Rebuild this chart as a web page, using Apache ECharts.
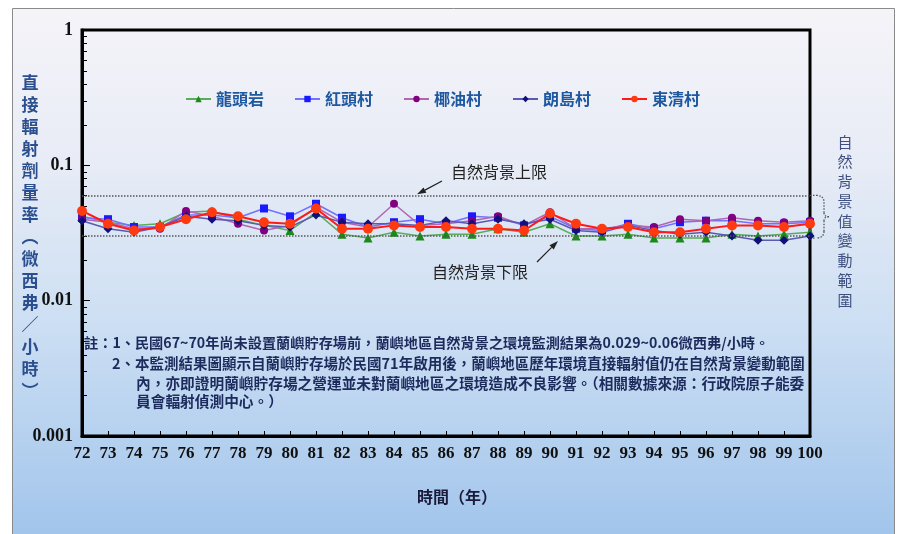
<!DOCTYPE html>
<html><head><meta charset="utf-8">
<script src="https://cdn.jsdelivr.net/npm/echarts@6/dist/echarts.min.js"></script>
<style>html,body{margin:0;padding:0;background:#fff}#c{width:901px;height:534px}</style>
</head><body><div id="c"></div>
<script>
const years = ['72','73','74','75','76','77','78','79','80','81','82','83','84','85','86','87','88','89','90','91','92','93','94','95','96','97','98','99','100'];
const longtouyan = [0.042,0.038,0.036,0.037,0.045,0.046,0.040,0.036,0.033,0.045,0.031,0.029,0.032,0.030,0.031,0.031,0.034,0.032,0.037,0.030,0.030,0.031,0.029,0.029,0.029,0.031,0.030,0.031,0.032];
const hongtoucun = [0.041,0.040,0.035,0.035,0.043,0.043,0.041,0.048,0.042,0.052,0.041,0.035,0.038,0.040,0.037,0.042,0.041,0.036,0.042,0.034,0.033,0.037,0.034,0.038,0.039,0.039,0.037,0.037,0.038];
const yeyoucun = [0.040,0.038,0.034,0.034,0.046,0.042,0.037,0.033,0.036,0.049,0.038,0.035,0.052,0.036,0.037,0.039,0.042,0.036,0.045,0.034,0.034,0.036,0.035,0.040,0.039,0.041,0.039,0.038,0.039];
const langdaocun = [0.039,0.034,0.032,0.035,0.042,0.040,0.039,0.036,0.035,0.043,0.038,0.037,0.037,0.036,0.039,0.037,0.040,0.037,0.040,0.033,0.032,0.036,0.033,0.031,0.032,0.030,0.028,0.028,0.030];
const dongqingcun = [0.046,0.037,0.033,0.035,0.040,0.045,0.042,0.038,0.037,0.048,0.034,0.034,0.036,0.035,0.035,0.034,0.034,0.033,0.044,0.037,0.034,0.035,0.032,0.032,0.034,0.036,0.036,0.035,0.037];
const seriesNames = ['龍頭岩','紅頭村','椰油村','朗島村','東清村'];
const yTickLabels = {'-3':'0.001','-2':'0.01','-1':'0.1','0':'1'};
const bgUpper = 0.06, bgLower = 0.029;
const yTitle = '直接輻射劑量率︵微西弗／小時︶';
const rightTitle = '自然背景值變動範圍';
const xTitle = '時間（年）';
const upperLabel = '自然背景上限';
const lowerLabel = '自然背景下限';
const notes = [
  '註：1、民國67~70年尚未設置蘭嶼貯存場前，蘭嶼地區自然背景之環境監測結果為0.029~0.06微西弗/小時。',
  '2、本監測結果圖顯示自蘭嶼貯存場於民國71年啟用後，蘭嶼地區歷年環境直接輻射值仍在自然背景變動範圍',
  '內，亦即證明蘭嶼貯存場之營運並未對蘭嶼地區之環境造成不良影響。（相關數據來源：行政院原子能委',
  '員會輻射偵測中心。）'
];

const CJK = '"Noto Sans CJK TC"';
const chart = echarts.init(document.getElementById('c'), null, {renderer:'canvas'});

function mk(name, data, lineColor, markColor, symbol, size, width, extra) {
  return Object.assign({
    name, type:'line', data, symbol, symbolSize:size,
    lineStyle:{color:lineColor, width:width},
    itemStyle:{color:markColor},
    emphasis:{disabled:true}
  }, extra||{});
}

const option = {
  animation:false,
  backgroundColor: new echarts.graphic.LinearGradient(0,0,0,1,[
    {offset:0,color:'#f6f4f9'},{offset:0.3,color:'#e8ecf6'},{offset:0.6,color:'#cddff3'},{offset:1,color:'#a2c5ec'}]),
  grid:{left:82,right:91,top:30,bottom:98,show:true,borderColor:'#000',borderWidth:3,backgroundColor:'transparent'},
  legend:{
    left:180, top:86, itemWidth:25, itemHeight:8, itemGap:30,
    textStyle:{fontFamily:CJK, fontWeight:'bold', fontSize:16, color:'#1d58a0'},
    data:seriesNames
  },
  xAxis:{
    type:'category', data:years, boundaryGap:false,
    axisLine:{lineStyle:{color:'#000',width:3}},
    axisTick:{show:true,inside:true,length:5,lineStyle:{color:'#000'}},
    axisLabel:{interval:0,margin:9,fontFamily:'Liberation Serif',fontWeight:'bold',fontSize:17,color:'#111'},
    splitLine:{show:false}
  },
  yAxis:{
    type:'log', logBase:10, min:0.001, max:1,
    axisLine:{show:true,lineStyle:{color:'#000',width:3}},
    axisTick:{show:true,inside:true,length:8,lineStyle:{color:'#000'}},
    axisLabel:{margin:9,fontFamily:'Liberation Serif',fontWeight:'bold',fontSize:18,color:'#111',
      formatter:v=>yTickLabels[String(Math.round(Math.log10(v)))]},
    splitLine:{show:false}
  },
  series:[
    mk(seriesNames[0], longtouyan, '#5aab5a', '#1b8a1b', 'triangle', 9, 1.5, {
      markLine:{silent:true,symbol:'none',label:{show:false},
        lineStyle:{type:'dotted',color:'#555',width:1.5},
        data:[{yAxis:bgUpper},{yAxis:bgLower}]}
    }),
    mk(seriesNames[1], hongtoucun, '#7272ff', '#1a1aff', 'rect', 8, 1.5),
    mk(seriesNames[2], yeyoucun, '#b266b2', '#800080', 'circle', 8, 1.5),
    mk(seriesNames[3], langdaocun, '#5a5ab4', '#10107a', 'diamond', 9, 1.5),
    mk(seriesNames[4], dongqingcun, '#ff1a1a', '#ff3a10', 'circle', 10, 2)
  ]
};
chart.setOption(option);

const yU = chart.convertToPixel({yAxisIndex:0}, bgUpper);
const yL = chart.convertToPixel({yAxisIndex:0}, bgLower);
const xL = chart.convertToPixel({xAxisIndex:0}, years[0]);
const xR = chart.convertToPixel({xAxisIndex:0}, years[years.length-1]);
const g = [];
// frame
g.push({type:'rect',shape:{x:0,y:0,width:901,height:8},style:{fill:'#fff'},silent:true});
g.push({type:'rect',shape:{x:0,y:0,width:12,height:534},style:{fill:'#fff'},silent:true});
g.push({type:'rect',shape:{x:895,y:0,width:6,height:534},style:{fill:'#fff'},silent:true});
g.push({type:'rect',shape:{x:12.5,y:8.5,width:882,height:530},style:{fill:null,stroke:'#8a8a8a',lineWidth:1},silent:true});
// log minor ticks
[0.001,0.01,0.1].forEach(d=>{
  for(let k=2;k<=9;k++){
    const y = Math.round(chart.convertToPixel({yAxisIndex:0}, k*d))+0.5;
    g.push({type:'line',shape:{x1:xL,y1:y,x2:xL+5,y2:y},style:{stroke:'#000',lineWidth:1},silent:true});
  }
});
// dotted extensions + brace
const xb = xR+6, mid=(yU+yL)/2;
const dash = {stroke:'#555',lineWidth:1.3,lineDash:[1.5,1.5],fill:null};
g.push({type:'line',shape:{x1:xR,y1:yU,x2:xb,y2:yU},style:dash,silent:true});
g.push({type:'line',shape:{x1:xR,y1:yL,x2:xb,y2:yL},style:dash,silent:true});
g.push({type:'bezierCurve',silent:true,shape:{x1:xb,y1:yU,x2:xb+8,y2:yU+7,cpx1:xb+8,cpy1:yU},style:dash});
g.push({type:'line',silent:true,shape:{x1:xb+8,y1:yU+7,x2:xb+8,y2:mid-4},style:dash});
g.push({type:'bezierCurve',silent:true,shape:{x1:xb+8,y1:mid-4,x2:xb+13,y2:mid,cpx1:xb+8,cpy1:mid},style:dash});
g.push({type:'bezierCurve',silent:true,shape:{x1:xb+13,y1:mid,x2:xb+8,y2:mid+4,cpx1:xb+8,cpy1:mid},style:dash});
g.push({type:'line',silent:true,shape:{x1:xb+8,y1:mid+4,x2:xb+8,y2:yL-7},style:dash});
g.push({type:'bezierCurve',silent:true,shape:{x1:xb+8,y1:yL-7,x2:xb,y2:yL,cpx1:xb+8,cpy1:yL},style:dash});
// arrows
function arrow(x1,y1,x2,y2){
  const a=Math.atan2(y2-y1,x2-x1), L=9, W=3;
  const bx=x2-L*Math.cos(a), by=y2-L*Math.sin(a);
  const px=-Math.sin(a)*W, py=Math.cos(a)*W;
  g.push({type:'line',shape:{x1,y1,x2:bx,y2:by},style:{stroke:'#222',lineWidth:1.2},silent:true});
  g.push({type:'polygon',shape:{points:[[x2,y2],[bx+px,by+py],[bx-px,by-py]]},style:{fill:'#222'},silent:true});
}
arrow(442,181,417,yU-1);
arrow(537,262,558,yL+3);
g.push({type:'text',silent:true,style:{text:upperLabel,x:499,y:172,align:'center',verticalAlign:'middle',font:'16px '+CJK,fill:'#222'}});
g.push({type:'text',silent:true,style:{text:lowerLabel,x:480,y:272,align:'center',verticalAlign:'middle',font:'16px '+CJK,fill:'#222'}});
// y title
g.push({type:'text',silent:true,style:{text:yTitle.split('').join('\n'),x:30,y:72,align:'center',verticalAlign:'top',lineHeight:22,font:'bold 17px '+CJK,fill:'#2b4f8e'}});
// right title
g.push({type:'text',silent:true,style:{text:rightTitle.split('').join('\n'),x:845,y:132,align:'center',verticalAlign:'top',lineHeight:19.75,font:'15px '+CJK,fill:'#3d4f80'}});
// x title
g.push({type:'text',silent:true,style:{text:xTitle,x:457,y:497,align:'center',verticalAlign:'middle',font:'bold 16px '+CJK,fill:'#1a1a3a'}});
// notes
const noteX=[84,112,136,136], noteY=[343,363,383,401], noteSize=[14.2,14.5,14.7,14.7];
notes.forEach((t,i)=>g.push({type:'text',silent:true,style:{text:t,x:noteX[i],y:noteY[i],align:'left',verticalAlign:'middle',font:'bold '+noteSize[i]+'px '+CJK,fill:'#1c2a5c'}}));
chart.setOption({graphic:{elements:g}});
</script></body></html>
